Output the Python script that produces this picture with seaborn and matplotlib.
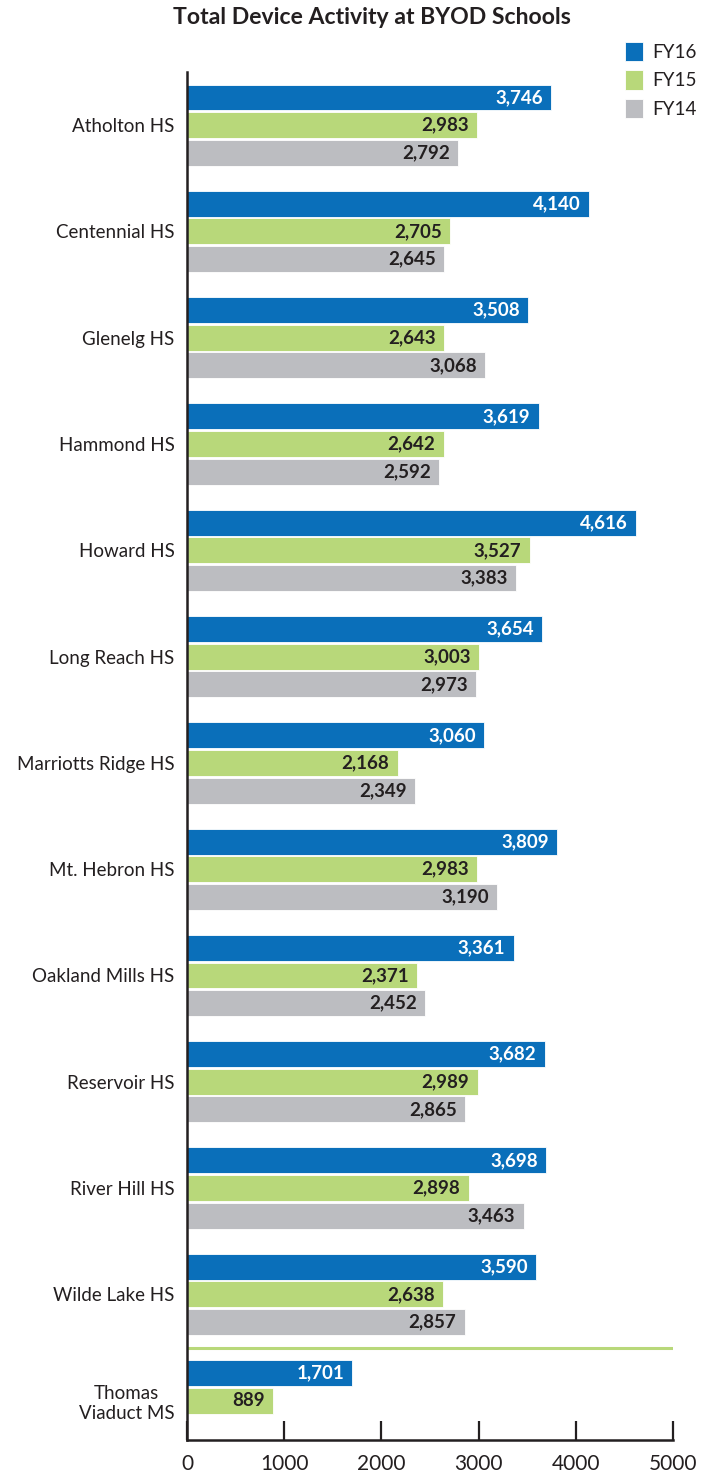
import numpy as np
import pandas as pd
import matplotlib
matplotlib.use("Agg")
import matplotlib.pyplot as plt
import seaborn as sns

schools = ["Atholton HS", "Centennial HS", "Glenelg HS", "Hammond HS", "Howard HS",
           "Long Reach HS", "Marriotts Ridge HS", "Mt. Hebron HS", "Oakland Mills HS",
           "Reservoir HS", "River Hill HS", "Wilde Lake HS", "Thomas\nViaduct MS"]
fy16 = [3746, 4140, 3508, 3619, 4616, 3654, 3060, 3809, 3361, 3682, 3698, 3590, 1701]
fy15 = [2983, 2705, 2643, 2642, 3527, 3003, 2168, 2983, 2371, 2989, 2898, 2638, 889]
fy14 = [2792, 2645, 3068, 2592, 3383, 2973, 2349, 3190, 2452, 2865, 3463, 2857, np.nan]
series = ["FY16", "FY15", "FY14"]
xticks = [0, 1000, 2000, 3000, 4000, 5000]

colors = {"FY16": "#0a6fba", "FY15": "#b8d87a", "FY14": "#bcbdc1"}
label_colors = {"FY16": "white", "FY15": "#231f20", "FY14": "#231f20"}

rows = []
for s, vals in zip(series, [fy16, fy15, fy14]):
    for sc, v in zip(schools, vals):
        rows.append({"School": sc, "Year": s, "Value": v})
df = pd.DataFrame(rows)

sns.set_theme(style="white")
plt.rcParams["font.family"] = ["Lato", "DejaVu Sans"]
text_c = "#231f20"

fig = plt.figure(figsize=(7.15, 14.73), dpi=100)
ax = fig.add_axes([187/715, 1 - 1440/1473, (673-187)/715, (1440-72)/1473])

sns.barplot(data=df, y="School", x="Value", hue="Year", order=schools, hue_order=series,
            palette=colors, orient="h", width=0.78, gap=0.06, errorbar=None,
            edgecolor="white", linewidth=0.6, saturation=1, ax=ax, legend=True)

for cont, s in zip(ax.containers, series):
    vals = [p.get_width() for p in cont]
    labels = ["" if np.isnan(v) else f"{int(v):,}" for v in vals]
    texts = ax.bar_label(cont, labels=labels, padding=-6, fontsize=13.5,
                         fontweight="bold", color=label_colors[s])
    for t in texts:
        t.set_ha("right")

ax.axhline(11.5, color="#b8d87a", lw=2.2, xmin=0, xmax=1)

ax.set_xlim(0, 5000)
ax.set_ylim(12.37, -0.5)
ax.set_xticks(xticks)
ax.set_xticklabels([str(x) for x in xticks], fontsize=15, color=text_c)
ax.tick_params(axis="x", direction="in", length=14, width=1.6, color="#231f20", pad=10,
               bottom=True)
ax.tick_params(axis="y", length=0, pad=9, labelsize=13.5, labelcolor=text_c)
for lbl in ax.get_yticklabels():
    lbl.set_multialignment("center")
ax.set_xlabel("")
ax.set_ylabel("")
for sp in ["top", "right"]:
    ax.spines[sp].set_visible(False)
for sp in ["left", "bottom"]:
    ax.spines[sp].set_color("#231f20")
    ax.spines[sp].set_linewidth(1.8)

handles, labs = ax.get_legend_handles_labels()
ax.get_legend().remove()
fig.legend(handles, labs, loc="upper right", bbox_to_anchor=(714/715, 1 - 25/1473),
           frameon=False, fontsize=13.5, handlelength=1.0, handleheight=1.2,
           handletextpad=0.5, labelspacing=0.5, labelcolor=text_c)

fig.text(372/715, 1 - 17/1473, "Total Device Activity at BYOD Schools", ha="center",
         va="center", fontsize=16.6, fontweight="bold", color=text_c)

fig.savefig("out.png", dpi=100)
